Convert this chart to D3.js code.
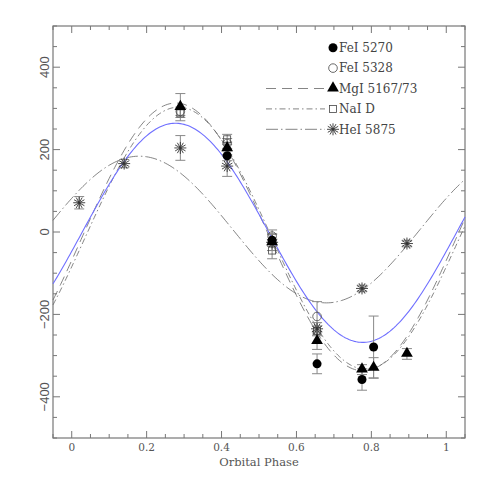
<!DOCTYPE html>
<html>
<head>
<meta charset="utf-8">
<script src="https://cdn.jsdelivr.net/npm/d3@7"></script>
<style>
body { margin: 0; background: #fff; }
</style>
</head>
<body>
<div id="chart"></div>
<script>
// data: [phase, velocity, error]
var fe5270 = [[0.415, 185, 12], [0.535, -20, 15], [0.655, -320, 24], [0.775, -358, 26], [0.806, -279, 75]];
var fe5328 = [[0.29, 293, 10], [0.415, 215, 12], [0.535, -10, 15], [0.655, -205, 36]];
var mgI = [[0.29, 303, 33], [0.415, 203, 15], [0.535, -25, 20], [0.655, -265, 20], [0.775, -334, 12], [0.806, -330, 25], [0.895, -296, 13]];
var naD = [[0.29, 288, 10], [0.415, 225, 12], [0.535, -45, 20], [0.655, -240, 12]];
var heI = [[0.02, 71, 15], [0.14, 166, 10], [0.29, 204, 30], [0.415, 160, 25], [0.535, -25, 20], [0.655, -235, 15], [0.775, -137, 8], [0.895, -28, 8]];

// sine fits: gamma, K, phase of maximum
var fitBlue = [-2, 266, 0.277];
var fitMg = [-12, 325, 0.278];
var fitNa = [-15, 318, 0.285];
var fitHe = [6, 178, 0.18];

var xTicks = [0, 0.2, 0.4, 0.6, 0.8, 1];
var yTicks = [-400, -200, 0, 200, 400];

var W = 491, H = 491;
var margin = {top: 26, right: 26, bottom: 53, left: 53},
    width = W - margin.left - margin.right,
    height = H - margin.top - margin.bottom;

var svg = d3.select("#chart")
    .append("svg")
        .attr("width", W)
        .attr("height", H)
    .append("g")
        .attr("transform", "translate(" + margin.left + "," + margin.top + ")");

var x = d3.scaleLinear().domain([-0.05, 1.05]).range([0, width]);
var y = d3.scaleLinear().domain([-500, 500]).range([height, 0]);

var axisCol = "#777";
var serif = "'DejaVu Serif', 'Liberation Serif', serif";
var sans = "'Liberation Sans', Arial, sans-serif";

// minor + major ticks on all four sides, pointing inward
var xMinor = d3.range(-0.05, 1.051, 0.05).map(d => +d.toFixed(2));
var yMinor = d3.range(-500, 501, 50);
function isMajorX(d) { return Math.abs(d * 5 - Math.round(d * 5)) < 1e-6; }

var ticks = svg.append("g").attr("stroke", axisCol).attr("stroke-width", 1);
xMinor.forEach(function(d) {
    var len = isMajorX(d) ? 7 : 4;
    ticks.append("line").attr("x1", x(d)).attr("x2", x(d)).attr("y1", height).attr("y2", height - len);
    ticks.append("line").attr("x1", x(d)).attr("x2", x(d)).attr("y1", 0).attr("y2", len);
});
yMinor.forEach(function(d) {
    var len = (d % 200 === 0) ? 7 : 4;
    ticks.append("line").attr("y1", y(d)).attr("y2", y(d)).attr("x1", 0).attr("x2", len);
    ticks.append("line").attr("y1", y(d)).attr("y2", y(d)).attr("x1", width).attr("x2", width - len);
});

svg.append("rect")
    .attr("width", width).attr("height", height)
    .attr("fill", "none").attr("stroke", axisCol).attr("stroke-width", 1.2);

// tick labels
svg.selectAll(".xl").data(xTicks).enter().append("text")
    .attr("x", d => x(d)).attr("y", height + 13)
    .attr("text-anchor", "middle")
    .style("font-family", serif).style("font-size", "10.5px").attr("fill", "#555")
    .text(d => d);
svg.selectAll(".yl").data(yTicks).enter().append("text")
    .attr("transform", d => "translate(-9," + y(d) + ") rotate(-90)")
    .attr("text-anchor", "middle").attr("dy", "0.35em")
    .style("font-family", sans).style("font-size", "13px").attr("fill", "#555")
    .text(d => d < 0 ? "\u2212" + Math.abs(d) : d);

svg.append("text")
    .attr("x", width / 2).attr("y", height + 28)
    .attr("text-anchor", "middle")
    .style("font-family", serif).style("font-size", "11.5px").attr("fill", "#555")
    .text("Orbital Phase");

// fitted curves
var phases = d3.range(-0.05, 1.0501, 0.005);
function fitLine(p) {
    return d3.line()
        .x(d => x(d))
        .y(d => y(p[0] + p[1] * Math.cos(2 * Math.PI * (d - p[2]))))(phases);
}
var dashMg = "10,6", dashNa = "6,3,1.5,3", dashHe = "12,3,1.5,3";
var curves = svg.append("g").attr("fill", "none");
curves.append("path").attr("d", fitLine(fitHe)).attr("stroke", "#666").attr("stroke-width", 0.8).attr("stroke-dasharray", dashHe);
curves.append("path").attr("d", fitLine(fitMg)).attr("stroke", "#666").attr("stroke-width", 0.8).attr("stroke-dasharray", dashMg);
curves.append("path").attr("d", fitLine(fitNa)).attr("stroke", "#666").attr("stroke-width", 0.8).attr("stroke-dasharray", dashNa);
curves.append("path").attr("d", fitLine(fitBlue)).attr("stroke", "#6f6fff").attr("stroke-width", 1.1);

// error bars
var all = [].concat(fe5270, fe5328, mgI, naD, heI);
var eb = svg.append("g").attr("stroke", "#888").attr("stroke-width", 1);
all.forEach(function(d) {
    var px = x(d[0]);
    eb.append("line").attr("x1", px).attr("x2", px).attr("y1", y(d[1] - d[2])).attr("y2", y(d[1] + d[2]));
    eb.append("line").attr("x1", px - 5).attr("x2", px + 5).attr("y1", y(d[1] - d[2])).attr("y2", y(d[1] - d[2]));
    eb.append("line").attr("x1", px - 5).attr("x2", px + 5).attr("y1", y(d[1] + d[2])).attr("y2", y(d[1] + d[2]));
});

// markers
function drawMarker(g, type, cx, cy) {
    if (type === "fcirc") g.append("circle").attr("cx", cx).attr("cy", cy).attr("r", 4.5).attr("fill", "#000");
    if (type === "ocirc") g.append("circle").attr("cx", cx).attr("cy", cy).attr("r", 4.3).attr("fill", "none").attr("stroke", "#444").attr("stroke-width", 0.8);
    if (type === "tri") g.append("path").attr("d", d3.symbol(d3.symbolTriangle, 60)()).attr("transform", "translate(" + cx + "," + (cy - 0.5) + ")").attr("fill", "#000");
    if (type === "sq") g.append("rect").attr("x", cx - 3.5).attr("y", cy - 3.5).attr("width", 7).attr("height", 7).attr("fill", "none").attr("stroke", "#444").attr("stroke-width", 0.8);
    if (type === "ast") {
        var a = g.append("g").attr("transform", "translate(" + cx + "," + cy + ")").attr("stroke", "#333").attr("stroke-width", 0.9);
        for (var i = 0; i < 6; i++) {
            var ang = i * Math.PI / 6;
            a.append("line").attr("x1", -6 * Math.cos(ang)).attr("y1", -6 * Math.sin(ang)).attr("x2", 6 * Math.cos(ang)).attr("y2", 6 * Math.sin(ang));
        }
    }
}
var series = [
    {data: naD, type: "sq"},
    {data: fe5328, type: "ocirc"},
    {data: heI, type: "ast"},
    {data: mgI, type: "tri"},
    {data: fe5270, type: "fcirc"}
];
var mk = svg.append("g");
series.forEach(function(s) {
    s.data.forEach(d => drawMarker(mk, s.type, x(d[0]), y(d[1])));
});

// legend
var legend = [
    {label: "FeI 5270", type: "fcirc", dash: null},
    {label: "FeI 5328", type: "ocirc", dash: null},
    {label: "MgI 5167/73", type: "tri", dash: dashMg},
    {label: "NaI D", type: "sq", dash: dashNa},
    {label: "HeI 5875", type: "ast", dash: dashHe}
];
var lg = svg.append("g");
legend.forEach(function(l, i) {
    var ly = 21.7 + i * 20.4, mx = 280;
    if (l.dash) lg.append("line").attr("x1", 213).attr("x2", mx - 8).attr("y1", ly).attr("y2", ly)
        .attr("stroke", "#666").attr("stroke-width", 0.8).attr("stroke-dasharray", l.dash);
    drawMarker(lg, l.type, mx, ly);
    lg.append("text").attr("x", mx + 6).attr("y", ly).attr("dy", "0.35em")
        .style("font-family", serif).style("font-size", "12px").attr("fill", "#444")
        .text(l.label);
});
</script>
</body>
</html>
